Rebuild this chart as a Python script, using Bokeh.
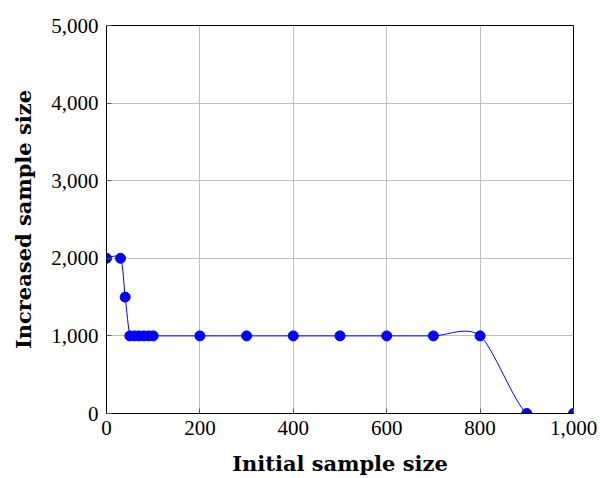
from bokeh.plotting import figure
from bokeh.models import Range1d, FixedTicker, NumeralTickFormatter
from bokeh.embed import file_html
from bokeh.resources import INLINE

# data
initial_size = [0, 30, 40, 50, 60, 70, 80, 90, 100, 200, 300, 400, 500, 600, 700, 800, 900, 1000]
increased_size = [2000, 2000, 1500, 1000, 1000, 1000, 1000, 1000, 1000, 1000, 1000, 1000, 1000, 1000, 1000, 1000, 0, 0]
x_ticks = [0, 200, 400, 600, 800, 1000]
y_ticks = [0, 1000, 2000, 3000, 4000, 5000]

TICK_FONT = "Liberation Serif"
LABEL_FONT = "DejaVu Serif"
BLUE = "#0000ff"

p = figure(width=598, height=478, output_backend="svg", toolbar_location=None,
           x_range=Range1d(0, 1000), y_range=Range1d(0, 5000),
           min_border_left=106, min_border_right=25, min_border_top=25, min_border_bottom=65)
p.outline_line_color = "black"
p.outline_line_width = 1

for ax in (p.xaxis[0], p.yaxis[0]):
    ax.major_label_text_font = TICK_FONT
    ax.major_label_text_font_size = "21px"
    ax.major_label_text_color = "black"
    ax.axis_label_text_font = LABEL_FONT
    ax.axis_label_text_font_size = "21px"
    ax.axis_label_text_font_style = "bold"
    ax.axis_label_text_color = "black"
    ax.major_tick_in = 5
    ax.major_tick_out = 0
    ax.minor_tick_line_color = None
    ax.axis_line_color = "black"
    ax.major_tick_line_color = "#555555"
    ax.formatter = NumeralTickFormatter(format="0,0")

p.xaxis[0].ticker = FixedTicker(ticks=x_ticks)
p.yaxis[0].ticker = FixedTicker(ticks=y_ticks)
p.xaxis[0].axis_label = "Initial sample size"
p.yaxis[0].axis_label = "Increased sample size"
p.xaxis[0].major_label_standoff = 7
p.yaxis[0].major_label_standoff = 8
p.xaxis[0].axis_label_standoff = 13
p.yaxis[0].axis_label_standoff = 12

p.xgrid.ticker = FixedTicker(ticks=x_ticks)
p.ygrid.ticker = FixedTicker(ticks=y_ticks)
p.grid.grid_line_color = "#bfbfbf"
p.grid.grid_line_width = 1

# smooth curve (TikZ-like smooth, tension factor)
t = 0.1375
n = len(initial_size)
x0s, y0s, x1s, y1s, cx0, cy0, cx1, cy1 = [], [], [], [], [], [], [], []
for i in range(n - 1):
    xa, ya = initial_size[i], increased_size[i]
    xb, yb = initial_size[i + 1], increased_size[i + 1]
    xp, yp = (initial_size[i - 1], increased_size[i - 1]) if i > 0 else (xa, ya)
    xn, yn = (initial_size[i + 2], increased_size[i + 2]) if i + 2 < n else (xb, yb)
    x0s.append(xa); y0s.append(ya); x1s.append(xb); y1s.append(yb)
    cx0.append(xa + t * (xb - xp)); cy0.append(ya + t * (yb - yp))
    cx1.append(xb - t * (xn - xa)); cy1.append(yb - t * (yn - ya))
p.bezier(x0=x0s, y0=y0s, x1=x1s, y1=y1s, cx0=cx0, cy0=cy0, cx1=cx1, cy1=cy1,
         line_color=BLUE, line_width=1)
p.scatter(initial_size, increased_size, size=10, fill_color=BLUE, line_color=BLUE)

open("out.html", "w").write(file_html(p, INLINE))
